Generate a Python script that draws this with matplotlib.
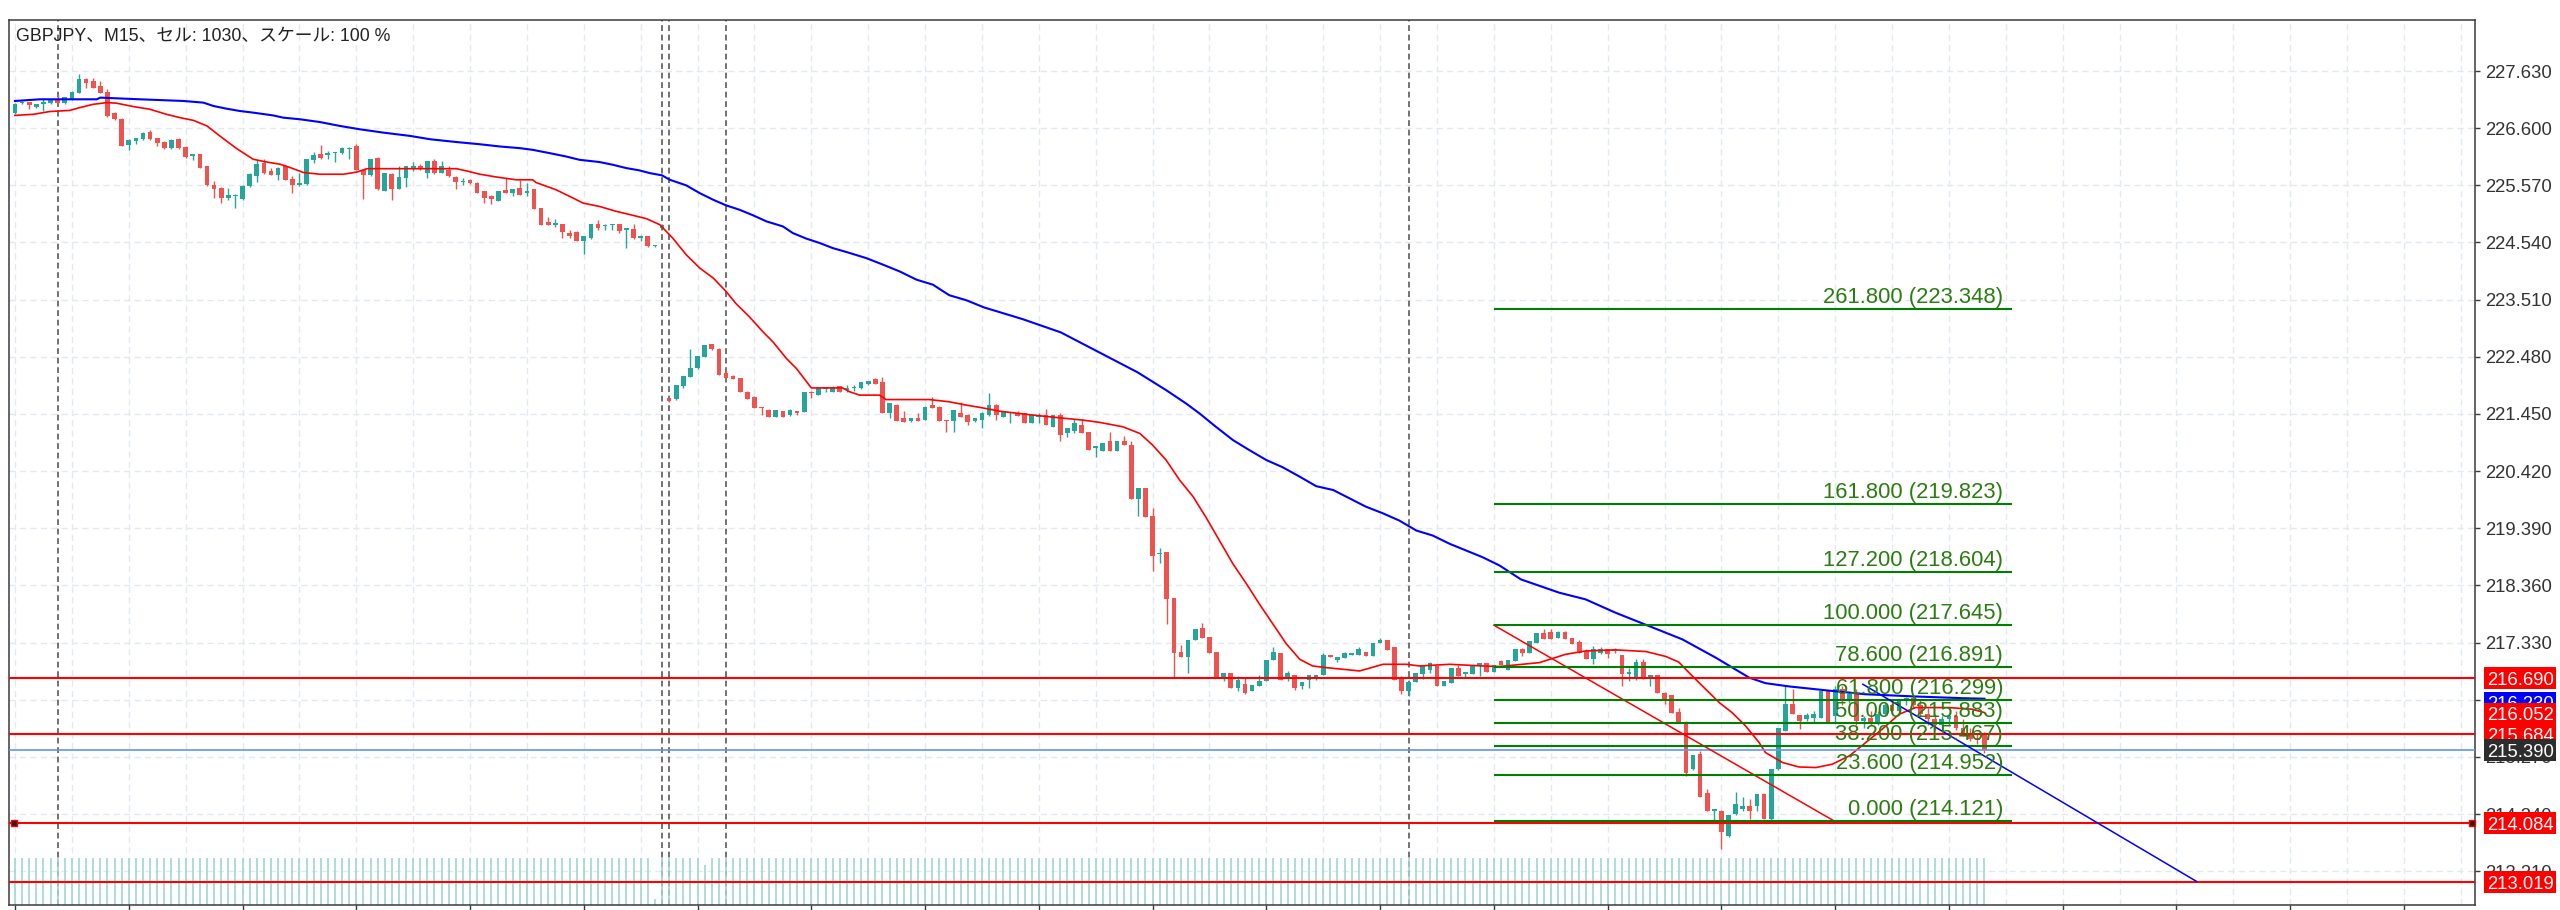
import matplotlib.pyplot as plt
from matplotlib.patches import Rectangle
from matplotlib.transforms import blended_transform_factory

# -----------------------------
# SCREEN GEOMETRY (pixels of the 2560x910 screenshot)
# -----------------------------
FIG_W, FIG_H, DPI = 2560, 910, 100
PLOT_LEFT, PLOT_RIGHT = 9, 2475
PLOT_TOP, PLOT_BOTTOM = 20, 905
BAR0_X, BAR_STEP = 15, 7.11
PRICE_TOP, PRICE_BOTTOM = 228.549, 212.603
PX_PER_YEN = (PLOT_BOTTOM - PLOT_TOP) / (PRICE_TOP - PRICE_BOTTOM)

BULL = "#26a69a"
BEAR = "#ef5350"
AXIS_FS = 13.3
FIB_FS = 15.8

# -----------------------------
# DATA: GBPJPY M15 candles
# -----------------------------
OPEN = [
    226.87, 227.05, 227.07, 226.99, 227.03, 227.05, 227.12, 227.05, 227.12, 227.24,
    227.48, 227.45, 227.36, 227.26, 226.88, 226.77, 226.29, 226.37, 226.40, 226.53,
    226.42, 226.35, 226.24, 226.40, 226.26, 226.09, 226.13, 225.91, 225.57, 225.53,
    225.34, 225.37, 225.32, 225.55, 225.73, 225.98, 225.83, 225.75, 225.91, 225.69,
    225.57, 225.59, 226.02, 226.13, 226.11, 226.15, 226.15, 226.22, 226.27, 225.85,
    225.75, 226.07, 225.47, 225.78, 225.51, 225.70, 225.86, 225.92, 225.80, 226.01,
    225.80, 225.85, 225.72, 225.63, 225.66, 225.62, 225.46, 225.38, 225.29, 225.49,
    225.43, 225.52, 225.44, 225.50, 225.16, 224.91, 224.86, 224.87, 224.72, 224.73,
    224.56, 224.62, 224.88, 224.83, 224.85, 224.87, 224.77, 224.79, 224.63, 224.65,
    224.47, 224.81, 221.73, 221.72, 221.96, 222.12, 222.27, 222.48, 222.71, 222.63,
    222.18, 222.14, 222.09, 221.85, 221.76, 221.56, 221.53, 221.40, 221.50, 221.43,
    221.49, 221.49, 221.85, 221.80, 221.90, 221.85, 221.95, 221.88, 221.91, 221.91,
    221.99, 222.08, 222.02, 221.46, 221.62, 221.38, 221.32, 221.37, 221.35, 221.61,
    221.58, 221.34, 221.32, 221.47, 221.44, 221.32, 221.34, 221.43, 221.62, 221.39,
    221.46, 221.47, 221.46, 221.29, 221.39, 221.43, 221.21, 221.44, 221.10, 221.15,
    221.26, 221.12, 220.83, 220.79, 220.96, 220.78, 220.96, 220.90, 219.91, 220.12,
    219.61, 218.92, 218.97, 218.14, 217.17, 217.08, 217.37, 217.59, 217.44, 217.17,
    216.70, 216.78, 216.52, 216.59, 216.45, 216.55, 216.64, 217.02, 217.14, 216.67,
    216.75, 216.54, 216.66, 216.72, 216.75, 217.09, 217.02, 217.05, 217.11, 217.11,
    217.17, 217.09, 217.33, 217.37, 217.25, 216.67, 216.46, 216.63, 216.76, 216.84,
    216.91, 216.55, 216.61, 216.87, 216.76, 216.76, 216.91, 216.97, 216.81, 217.00,
    216.84, 217.00, 217.22, 217.15, 217.33, 217.51, 217.53, 217.41, 217.53, 217.41,
    217.34, 217.18, 217.03, 217.15, 217.21, 217.21, 217.10, 216.76, 216.67, 216.98,
    216.70, 216.74, 216.43, 216.38, 216.08, 215.90, 215.05, 215.32, 214.63, 214.30,
    214.30, 213.84, 214.24, 214.34, 214.39, 214.39, 214.61, 214.15, 215.05, 215.74,
    216.23, 216.02, 215.95, 215.98, 215.98, 216.46, 216.00, 216.49, 216.30, 216.40,
    215.92, 215.98, 215.90, 216.05, 216.20, 216.10, 216.28, 216.33, 216.20, 216.05,
    215.95, 215.85, 215.95, 216.00, 215.80, 215.70, 215.62, 215.66,
]
HIGH = [
    227.06, 227.09, 227.08, 227.04, 227.12, 227.12, 227.22, 227.17, 227.27, 227.57,
    227.51, 227.51, 227.45, 227.30, 226.90, 226.78, 226.40, 226.43, 226.53, 226.56,
    226.43, 226.36, 226.40, 226.43, 226.27, 226.14, 226.14, 225.92, 225.65, 225.54,
    225.53, 225.41, 225.57, 225.79, 226.02, 226.04, 225.88, 225.90, 225.93, 225.74,
    225.80, 226.05, 226.17, 226.30, 226.19, 226.17, 226.26, 226.26, 226.32, 225.86,
    226.05, 226.08, 225.80, 225.79, 225.91, 225.92, 225.99, 225.96, 226.00, 226.04,
    226.00, 225.92, 225.73, 225.71, 225.68, 225.63, 225.47, 225.39, 225.47, 225.70,
    225.51, 225.67, 225.61, 225.51, 225.17, 225.00, 224.97, 224.88, 224.77, 224.74,
    224.66, 224.88, 224.94, 224.88, 224.88, 224.88, 224.80, 224.87, 224.68, 224.66,
    224.50, 224.87, 221.73, 221.98, 222.14, 222.63, 222.49, 222.69, 222.72, 222.64,
    222.24, 222.15, 222.10, 221.86, 221.77, 221.57, 221.54, 221.53, 221.51, 221.54,
    221.50, 221.85, 221.86, 221.91, 221.94, 221.95, 221.96, 221.98, 221.97, 222.02,
    222.05, 222.09, 222.12, 221.64, 221.63, 221.50, 221.38, 221.46, 221.59, 221.76,
    221.59, 221.35, 221.53, 221.66, 221.45, 221.38, 221.48, 221.82, 221.63, 221.51,
    221.49, 221.50, 221.46, 221.43, 221.47, 221.54, 221.44, 221.47, 221.19, 221.36,
    221.36, 221.12, 220.88, 220.93, 221.12, 220.96, 221.05, 220.96, 220.12, 220.12,
    219.75, 219.03, 218.97, 218.14, 217.29, 217.37, 217.58, 217.69, 217.44, 217.17,
    216.78, 216.78, 216.73, 216.72, 216.57, 216.75, 217.02, 217.25, 217.14, 216.82,
    216.75, 216.63, 216.75, 216.75, 217.15, 217.10, 217.08, 217.17, 217.14, 217.25,
    217.17, 217.33, 217.41, 217.37, 217.25, 216.73, 216.63, 216.78, 216.91, 216.99,
    216.91, 216.64, 216.88, 216.93, 216.81, 216.93, 216.97, 216.97, 216.93, 217.02,
    217.01, 217.22, 217.23, 217.36, 217.51, 217.57, 217.58, 217.54, 217.54, 217.42,
    217.38, 217.21, 217.27, 217.25, 217.22, 217.24, 217.11, 216.88, 217.03, 217.03,
    216.74, 216.75, 216.44, 216.39, 216.16, 215.91, 215.30, 215.38, 214.70, 214.34,
    214.31, 214.22, 214.64, 214.54, 214.51, 214.61, 214.63, 215.05, 215.80, 216.54,
    216.50, 216.03, 216.07, 216.10, 216.46, 216.47, 216.54, 216.55, 216.45, 216.50,
    216.00, 216.10, 216.10, 216.25, 216.28, 216.32, 216.35, 216.38, 216.30, 216.15,
    216.05, 216.00, 216.05, 216.10, 215.95, 215.80, 215.70, 215.72,
]
LOW = [
    226.85, 227.03, 226.95, 226.97, 226.91, 227.04, 227.04, 227.04, 227.11, 227.23,
    227.33, 227.32, 227.23, 226.80, 226.74, 226.27, 226.21, 226.31, 226.39, 226.39,
    226.28, 226.23, 226.23, 226.23, 226.07, 226.02, 225.88, 225.56, 225.35, 225.25,
    225.31, 225.16, 225.31, 225.54, 225.63, 225.78, 225.75, 225.67, 225.66, 225.44,
    225.56, 225.58, 225.97, 226.04, 226.05, 225.99, 226.14, 226.05, 225.84, 225.32,
    225.74, 225.49, 225.46, 225.31, 225.50, 225.54, 225.83, 225.84, 225.70, 225.78,
    225.79, 225.72, 225.50, 225.57, 225.60, 225.44, 225.25, 225.23, 225.28, 225.43,
    225.37, 225.40, 225.37, 225.15, 224.86, 224.86, 224.82, 224.63, 224.62, 224.56,
    224.33, 224.61, 224.77, 224.77, 224.77, 224.72, 224.44, 224.61, 224.56, 224.46,
    224.46, 224.80, 221.66, 221.71, 221.92, 222.11, 222.26, 222.47, 222.61, 222.16,
    222.10, 222.08, 221.84, 221.72, 221.55, 221.44, 221.40, 221.39, 221.40, 221.42,
    221.44, 221.48, 221.74, 221.79, 221.85, 221.84, 221.85, 221.85, 221.87, 221.90,
    221.98, 221.99, 221.46, 221.37, 221.32, 221.30, 221.31, 221.32, 221.34, 221.55,
    221.32, 221.12, 221.12, 221.39, 221.26, 221.31, 221.20, 221.42, 221.34, 221.39,
    221.29, 221.41, 221.29, 221.29, 221.29, 221.26, 221.21, 220.97, 221.04, 221.11,
    221.11, 220.81, 220.68, 220.79, 220.78, 220.78, 220.89, 219.91, 219.62, 219.59,
    218.63, 218.76, 217.67, 216.70, 217.08, 216.79, 217.37, 217.41, 217.15, 216.70,
    216.64, 216.52, 216.45, 216.40, 216.45, 216.55, 216.64, 217.01, 216.66, 216.64,
    216.47, 216.49, 216.51, 216.66, 216.75, 217.08, 216.99, 217.05, 217.11, 217.11,
    217.09, 217.09, 217.33, 217.20, 216.66, 216.40, 216.37, 216.63, 216.67, 216.78,
    216.55, 216.55, 216.61, 216.73, 216.72, 216.76, 216.73, 216.81, 216.81, 216.92,
    216.84, 217.00, 217.09, 217.15, 217.33, 217.40, 217.40, 217.41, 217.40, 217.30,
    217.14, 217.03, 216.94, 217.12, 217.06, 217.15, 216.54, 216.64, 216.66, 216.67,
    216.55, 216.43, 216.22, 216.07, 215.89, 214.93, 215.04, 214.54, 214.30, 214.12,
    213.61, 213.83, 214.23, 214.30, 214.15, 214.30, 214.15, 214.12, 215.04, 215.73,
    216.04, 215.78, 215.92, 215.90, 215.97, 215.90, 215.90, 216.20, 216.25, 215.85,
    215.80, 215.85, 215.85, 216.00, 216.05, 216.05, 216.20, 216.15, 216.00, 215.85,
    215.75, 215.80, 215.85, 215.75, 215.65, 215.55, 215.50, 215.35,
]
CLOSE = [
    227.03, 227.08, 227.01, 227.03, 227.07, 227.11, 227.05, 227.16, 227.25, 227.48,
    227.42, 227.33, 227.24, 226.82, 226.76, 226.28, 226.39, 226.42, 226.52, 226.40,
    226.34, 226.24, 226.39, 226.24, 226.08, 226.13, 225.89, 225.57, 225.51, 225.34,
    225.40, 225.39, 225.56, 225.78, 225.95, 225.79, 225.76, 225.89, 225.67, 225.57,
    225.62, 226.04, 226.11, 226.07, 226.16, 226.16, 226.24, 226.25, 225.85, 225.75,
    226.04, 225.50, 225.79, 225.50, 225.72, 225.91, 225.91, 225.87, 226.00, 225.79,
    225.91, 225.73, 225.63, 225.65, 225.61, 225.44, 225.34, 225.32, 225.47, 225.43,
    225.51, 225.40, 225.46, 225.15, 224.86, 224.86, 224.90, 224.73, 224.65, 224.56,
    224.65, 224.87, 224.80, 224.86, 224.87, 224.75, 224.79, 224.62, 224.65, 224.47,
    224.49, 224.86, 221.68, 221.98, 222.14, 222.28, 222.49, 222.69, 222.62, 222.16,
    222.10, 222.08, 221.84, 221.72, 221.55, 221.55, 221.40, 221.52, 221.40, 221.53,
    221.47, 221.85, 221.82, 221.91, 221.94, 221.94, 221.85, 221.92, 221.92, 222.02,
    222.04, 221.99, 221.46, 221.64, 221.32, 221.31, 221.37, 221.33, 221.58, 221.56,
    221.32, 221.32, 221.52, 221.39, 221.31, 221.37, 221.47, 221.61, 221.43, 221.51,
    221.49, 221.41, 221.29, 221.43, 221.44, 221.26, 221.44, 221.07, 221.19, 221.28,
    221.11, 220.81, 220.88, 220.93, 220.78, 220.96, 220.89, 219.91, 220.12, 219.59,
    218.89, 218.95, 218.12, 217.15, 217.08, 217.37, 217.58, 217.41, 217.15, 216.70,
    216.78, 216.52, 216.66, 216.43, 216.57, 216.64, 217.02, 217.17, 216.66, 216.78,
    216.52, 216.63, 216.75, 216.75, 217.11, 217.08, 217.08, 217.14, 217.14, 217.21,
    217.09, 217.33, 217.38, 217.20, 216.66, 216.46, 216.63, 216.78, 216.91, 216.96,
    216.55, 216.64, 216.88, 216.73, 216.81, 216.93, 216.97, 216.81, 216.93, 216.93,
    217.01, 217.22, 217.15, 217.36, 217.51, 217.40, 217.40, 217.53, 217.40, 217.30,
    217.14, 217.03, 217.21, 217.21, 217.12, 217.18, 216.76, 216.80, 216.98, 216.67,
    216.74, 216.43, 216.28, 216.07, 215.89, 214.99, 215.30, 214.54, 214.30, 214.32,
    213.91, 214.22, 214.42, 214.39, 214.30, 214.61, 214.15, 215.05, 215.80, 216.22,
    216.04, 215.92, 216.02, 216.04, 216.46, 215.90, 216.49, 216.30, 216.40, 215.92,
    215.98, 215.90, 216.05, 216.20, 216.10, 216.30, 216.33, 216.20, 216.05, 215.95,
    215.85, 215.95, 216.00, 215.80, 215.70, 215.60, 215.58, 215.39,
]

# tick volume is drawn clipped to a fixed band; only these bars fall short of it
VOLUME_SHORT = {90: 0.12, 97: 0.85}

# -----------------------------
# INDICATORS (bar index, price)
# -----------------------------
BLUE_MA_BAR = [
    0, 3.5, 11.5, 12, 17.6, 23.7, 26.5, 27.9, 29.8, 31.6, 33.5, 36.3, 37.7, 40.1,
    42.9, 45.7, 48.5, 51.8, 55.6, 58.4, 62.1, 65.4, 68.2, 71, 72.8, 75.2, 77.5,
    79.4, 82.2, 84.1, 86, 87.8, 89.3, 91, 92.1, 94.4, 96.3, 98.2, 100, 101.9,
    103.8, 105.7, 108, 109.4, 111.3, 113.2, 115, 116.9, 119.7, 122.1, 124.4,
    126.8, 129.1, 131.4, 133.8, 136.3, 141.7, 147.1, 152.5, 157.9, 161.9, 164.7,
    166.6, 168.9, 171.3, 173.6, 176, 178.3, 180.7, 183, 185.4, 187.7, 190, 192.4,
    194.7, 197.1, 199.4, 201.8, 204.1, 206.4, 208.8, 211.8, 217.2, 220.9, 225.1,
    229.8, 234.5, 239.2, 243.9, 246.2, 249.6, 254.8, 260.3, 267.3, 273.8, 277,
]
BLUE_MA_VAL = [
    227.09, 227.12, 227.12, 227.15, 227.12, 227.09, 227.06, 227.00, 226.95, 226.91,
    226.88, 226.83, 226.79, 226.76, 226.71, 226.64, 226.58, 226.52, 226.46, 226.40,
    226.35, 226.31, 226.27, 226.24, 226.21, 226.15, 226.09, 226.03, 225.99, 225.94,
    225.88, 225.84, 225.79, 225.75, 225.67, 225.57, 225.43, 225.31, 225.21, 225.13,
    225.03, 224.92, 224.83, 224.71, 224.61, 224.53, 224.44, 224.37, 224.26, 224.14,
    224.02, 223.87, 223.78, 223.59, 223.50, 223.37, 223.16, 222.92, 222.56, 222.20,
    221.88, 221.64, 221.46, 221.22, 220.98, 220.80, 220.62, 220.49, 220.32, 220.15,
    220.08, 219.93, 219.78, 219.66, 219.53, 219.35, 219.26, 219.11, 218.99, 218.87,
    218.72, 218.47, 218.23, 218.11, 217.87, 217.63, 217.39, 217.06, 216.70, 216.60,
    216.54, 216.47, 216.40, 216.36, 216.33, 216.32,
]
RED_MA_BAR = [
    0, 2.6, 4.9, 7.7, 9.1, 11, 12.9, 14.3, 16.6, 19, 21.3, 23.2, 25.1, 27, 28.8,
    31.2, 33.5, 35.4, 37.3, 38.7, 40.6, 42.9, 46.2, 48.1, 49.5, 62.1, 63.5, 65.4,
    67.7, 70.5, 72.8, 73.3, 76.1, 78.5, 79.9, 82.2, 84.6, 86.9, 88.8, 90.7, 92.5,
    94.4, 96.3, 98.2, 100, 101.4, 103.3, 105.2, 106.6, 108.5, 109.9, 112, 116.4,
    117.4, 118.8, 121.6, 122.5, 128.6, 131.4, 133.8, 136.1, 138.5, 143.2, 147.8,
    150.2, 152.5, 155.8, 158.2, 160, 161.9, 163.8, 165.7, 167.5, 169.4, 171.3,
    173.2, 175, 176.9, 178.8, 180.7, 182.5, 184.4, 186.8, 189.1, 190.5, 192.4,
    195.7, 197.5, 201.8, 206.4, 208.8, 214.4, 218.1, 220.9, 225.1, 229.4, 232.2,
    234.0, 235.9, 237.8, 239.7, 241.5, 243.4, 245.3, 246.2, 248.6, 250.9, 253.3,
    255.6, 258.0, 260.3, 262.6, 265.0, 267.3, 272.0, 275.3, 277,
]
RED_MA_VAL = [
    226.83, 226.85, 226.90, 226.92, 226.97, 227.03, 227.06, 227.05, 226.99, 226.94,
    226.85, 226.79, 226.74, 226.64, 226.46, 226.23, 226.04, 225.99, 225.95, 225.89,
    225.80, 225.77, 225.77, 225.81, 225.87, 225.87, 225.83, 225.77, 225.72, 225.67,
    225.67, 225.62, 225.49, 225.34, 225.25, 225.19, 225.10, 225.03, 224.97, 224.86,
    224.62, 224.32, 224.08, 223.90, 223.66, 223.44, 223.20, 222.93, 222.75, 222.45,
    222.27, 221.92, 221.92, 221.85, 221.79, 221.79, 221.71, 221.71, 221.67, 221.61,
    221.56, 221.50, 221.43, 221.37, 221.34, 221.30, 221.22, 221.10, 220.89, 220.62,
    220.26, 219.96, 219.59, 219.17, 218.75, 218.39, 218.03, 217.67, 217.31, 217.03,
    216.91, 216.88, 216.85, 216.82, 216.87, 216.94, 216.94, 216.91, 216.94, 216.91,
    216.90, 216.97, 217.12, 217.18, 217.20, 217.17, 217.08, 216.98, 216.73, 216.49,
    216.25, 216.07, 215.83, 215.53, 215.35, 215.17, 215.09, 215.08, 215.14, 215.29,
    215.53, 215.77, 216.04, 216.16, 216.16, 216.13, 216.07,
]

# -----------------------------
# DRAWN OBJECTS
# -----------------------------
H_LINES = [216.690, 215.684, 214.084, 213.019]
BID = 215.390
SEPARATOR_BARS = [6, 91, 92, 100, 196]

FIB_START_BAR, FIB_END_BAR = 208, 280.9
FIB_LEVELS = [0.0, 23.6, 38.2, 50.0, 61.8, 78.6, 100.0, 127.2, 161.8, 261.8]
FIB_PRICES = [214.121, 214.952, 215.467, 215.883, 216.299, 216.891, 217.645,
              218.604, 219.823, 223.348]
FIB_BASE = ([208, 255.8], [217.645, 214.121])
TRENDLINE = ([259.9, 306.8], [216.58, 213.03])

PRICE_TICKS = [213.210 + 1.03 * k for k in range(15)]

# right-hand price labels, in drawing order (later ones cover earlier ones)
PRICE_LABELS = [
    (216.690, "216.690", "#ff0000"),
    (216.250, "216.230", "#0000ff"),
    (216.052, "216.052", "#ff0000"),
    (215.684, "215.684", "#ff0000"),
    (215.390, "215.390", "#2d2d2d"),
    (214.084, "214.084", "#ff0000"),
    (213.019, "213.019", "#ff0000"),
]

TITLE = "GBPJPY、M15、セル: 1030、スケール: 100 %"


def px_to_bar(x):
    return (x - BAR0_X) / BAR_STEP


def draw_candles(ax):
    n = len(CLOSE)
    xs = list(range(n))
    colors = [BULL if CLOSE[i] >= OPEN[i] else BEAR for i in xs]
    ax.vlines(xs, LOW, HIGH, colors=colors, linewidth=1.0, zorder=3)
    bottoms = [min(OPEN[i], CLOSE[i]) for i in xs]
    heights = [max(abs(CLOSE[i] - OPEN[i]), 0.025) for i in xs]
    ax.bar(xs, heights, bottom=bottoms, width=0.66, color=colors,
           linewidth=0, zorder=3.5)

    vol_tf = ax.get_xaxis_transform()
    band = (PLOT_BOTTOM - 858) / (PLOT_BOTTOM - PLOT_TOP)
    tops = [band * VOLUME_SHORT.get(i, 1.0) for i in xs]
    ax.vlines(xs, 0, tops, colors="#9fd7cf", linewidth=1.2,
              transform=vol_tf, zorder=2)


def draw_labels(ax, fig):
    tf = blended_transform_factory(fig.transFigure, ax.transData)
    h = 22 / PX_PER_YEN
    x0, x1 = 2484 / FIG_W, 2556 / FIG_W
    for k, (price, text, face) in enumerate(PRICE_LABELS):
        ax.add_patch(Rectangle((x0, price - h / 2), x1 - x0, h, transform=tf,
                               facecolor=face, edgecolor="none",
                               clip_on=False, zorder=20 + 2 * k))
        ax.text(2487 / FIG_W, price - 6.7 / PX_PER_YEN, text, transform=tf,
                color="white", fontsize=AXIS_FS, ha="left", va="baseline",
                clip_on=False, zorder=21 + 2 * k)


def main():
    plt.rcParams["font.family"] = ["Liberation Sans", "Noto Sans CJK JP",
                                   "DejaVu Sans"]

    fig = plt.figure(figsize=(FIG_W / DPI, FIG_H / DPI), dpi=DPI)
    ax = fig.add_axes([PLOT_LEFT / FIG_W, 1 - PLOT_BOTTOM / FIG_H,
                       (PLOT_RIGHT - PLOT_LEFT) / FIG_W,
                       (PLOT_BOTTOM - PLOT_TOP) / FIG_H])
    ax.set_xlim(px_to_bar(PLOT_LEFT), px_to_bar(PLOT_RIGHT))
    ax.set_ylim(PRICE_BOTTOM, PRICE_TOP)

    # grid
    for b in range(0, 345, 8):
        ax.axvline(b, color="#e2e9f0", linewidth=1.0, dashes=(4.5, 3), zorder=0.5)
    for p in PRICE_TICKS:
        ax.axhline(p, color="#e2e9f0", linewidth=1.0, dashes=(4.5, 3), zorder=0.5)

    # period separators
    for b in SEPARATOR_BARS:
        ax.axvline(b, color="#5a5a5a", linewidth=1.2, dashes=(3.5, 2.2), zorder=1)

    draw_candles(ax)

    # moving averages
    ax.plot(BLUE_MA_BAR, BLUE_MA_VAL, color="#0000ff", linewidth=1.5, zorder=5)
    ax.plot(RED_MA_BAR, RED_MA_VAL, color="#ff0000", linewidth=1.2, zorder=5)

    # horizontal levels and bid
    for p in H_LINES:
        ax.axhline(p, color="#ff0000", linewidth=1.5, zorder=6)
    ax.axhline(BID, color="#6495ed", linewidth=1.2, zorder=6)
    ax.plot([px_to_bar(14)], [H_LINES[2]], marker="s", ms=5, mfc="#222222",
            mec="#ff0000", mew=1, zorder=7, clip_on=False)
    ax.plot([px_to_bar(2472)], [H_LINES[2]], marker="s", ms=5, mfc="#222222",
            mec="#ff0000", mew=1, zorder=7, clip_on=False)

    # fibonacci expansion
    ax.plot(*FIB_BASE, color="#ff0000", linewidth=1.1, zorder=6)
    text_x = px_to_bar(2003)
    for lvl, price in zip(FIB_LEVELS, FIB_PRICES):
        ax.hlines(price, FIB_START_BAR, FIB_END_BAR, color="#008000",
                  linewidth=1.5, zorder=6)
        ax.text(text_x, price + 6 / PX_PER_YEN, f"{lvl:.3f} ({price:.3f})",
                color="#2b7d12", fontsize=FIB_FS, ha="right", va="baseline",
                zorder=7)

    # trend line
    ax.plot(*TRENDLINE, color="#0000ff", linewidth=1.1, zorder=6)

    # axes styling
    for s in ax.spines.values():
        s.set_color("#3a3a3a")
        s.set_linewidth(1.1)
    ax.yaxis.tick_right()
    ax.set_yticks(PRICE_TICKS)
    ax.set_yticklabels([f"{p:.3f}" for p in PRICE_TICKS])
    ax.tick_params(axis="y", length=3.5, width=1, color="#3a3a3a",
                   labelsize=AXIS_FS, labelcolor="#333333", pad=4)
    ax.set_xticks(range(0, 345, 16))
    ax.set_xticklabels([])
    ax.tick_params(axis="x", length=4, width=1, color="#3a3a3a")

    draw_labels(ax, fig)

    fig.text(16 / FIG_W, 1 - 36 / FIG_H, TITLE, fontsize=12.8, color="#222222",
             ha="left", va="center")

    fig.savefig("out.png", dpi=DPI, facecolor="white")


if __name__ == "__main__":
    main()
